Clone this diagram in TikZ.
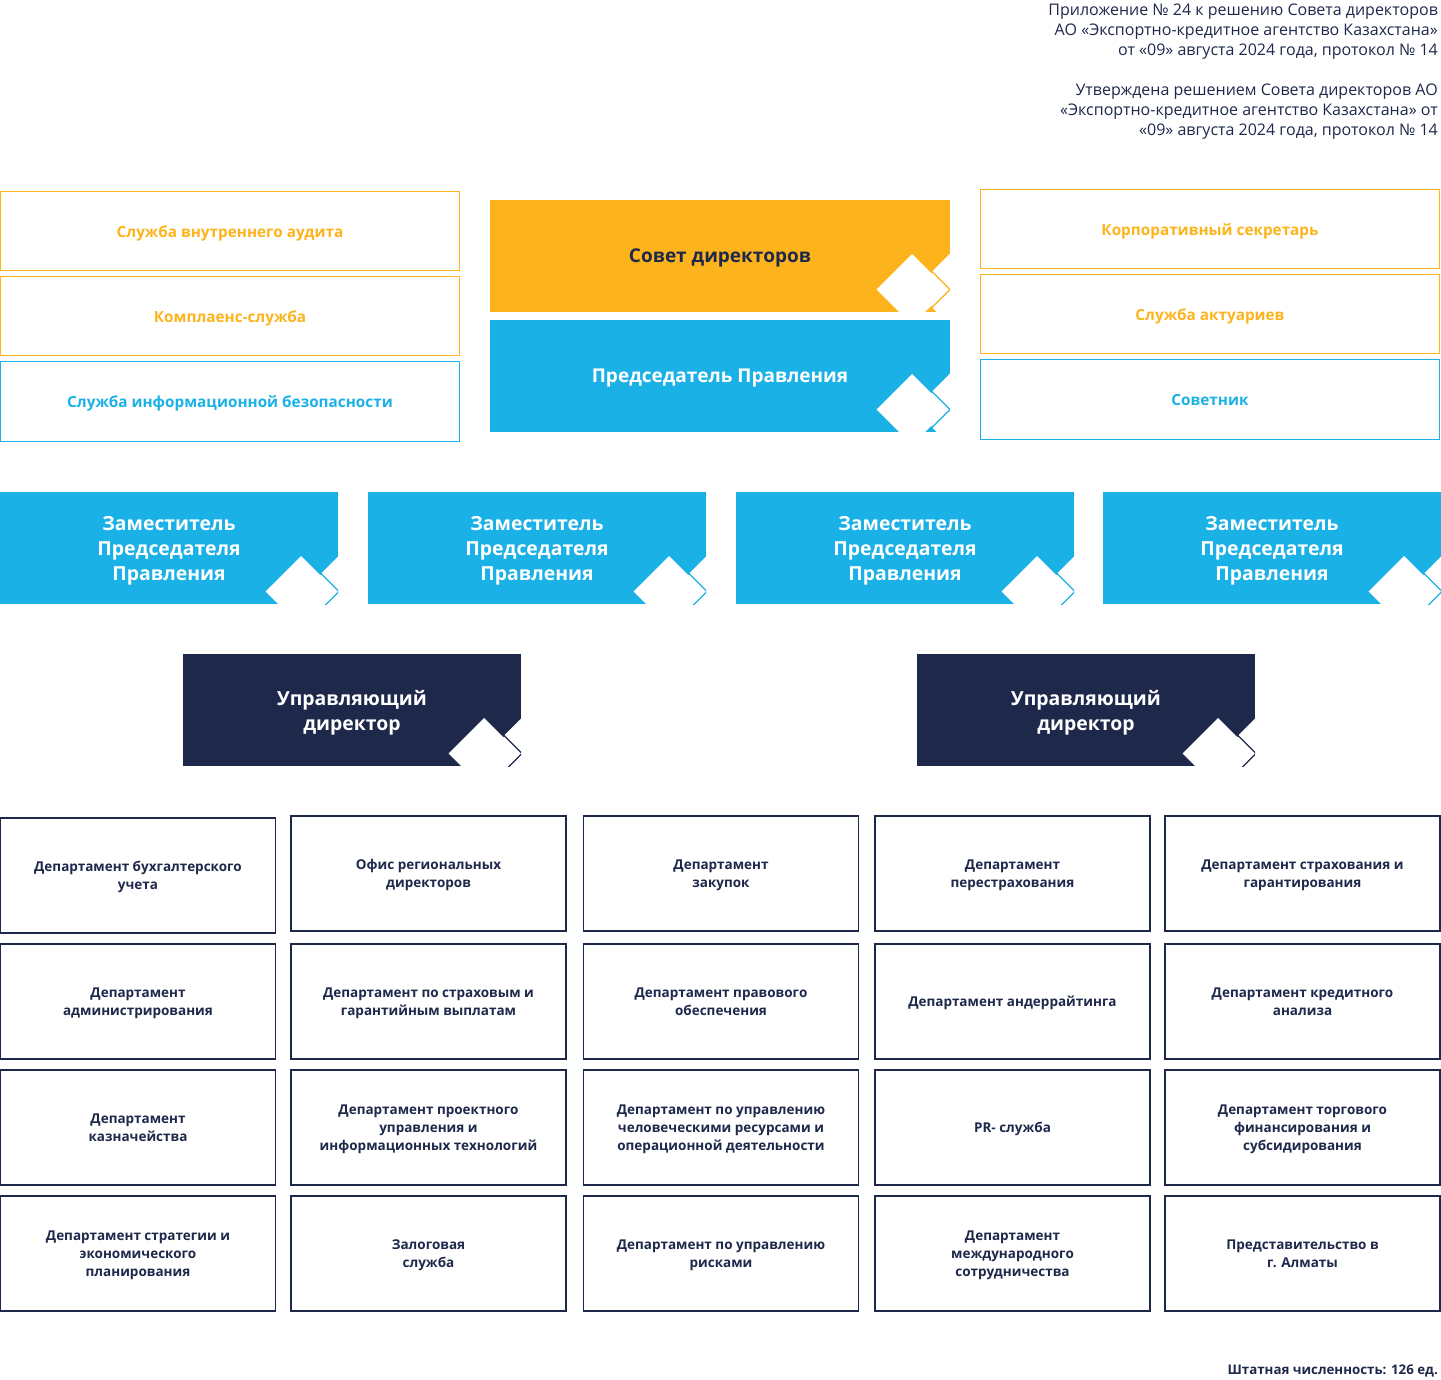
\documentclass[tikz,border=0pt]{standalone}
\usepackage{fontspec}
\setmainfont{Open Sans}
\usetikzlibrary{calc}
\definecolor{ekaorange}{HTML}{FDB31B}
\definecolor{ekablue}{HTML}{1AB1E6}
\definecolor{ekanavy}{HTML}{1E284B}
\tikzset{
  sidebox/.style={draw, line width=1pt, minimum width=459pt, minimum height=79pt, inner sep=0pt, outer sep=0pt, text depth=0pt, font=\fontsize{15.3}{18}\selectfont\bfseries},
  headbox/.style={minimum width=460pt, minimum height=112pt, inner sep=0pt, outer sep=0pt, text depth=0pt, font=\fontsize{19}{24}\selectfont\bfseries},
  deputybox/.style={fill=ekablue, text=white, minimum width=338pt, minimum height=112pt, inner sep=0pt, outer sep=0pt, text depth=0pt, align=center, font=\fontsize{19.4}{25}\selectfont\bfseries},
  directorbox/.style={fill=ekanavy, text=white, minimum width=338pt, minimum height=112pt, inner sep=0pt, outer sep=0pt, text depth=0pt, align=center, font=\fontsize{19.4}{25}\selectfont\bfseries},
  deptbox/.style={draw=ekanavy, line width=1.2pt, text=ekanavy, minimum width=275pt, minimum height=115pt, inner sep=0pt, outer sep=0pt, text depth=0pt, align=center, font=\fontsize{13.5}{18}\selectfont\bfseries},
  notetext/.style={text=ekanavy, align=right, inner sep=0pt, text depth=0pt, font=\fontsize{16}{20}\selectfont}
}
\newcommand\cornermark[4]{%
  \begin{scope}
    \clip (#1.north west) rectangle (#1.south east);
    \coordinate (mark) at ($(#1.south east)+(-#2,-#3)$);
    \fill[white, shift={(mark)}] (2,0) -- (82,-80) -- (82,80) -- cycle;
    \draw[#4, line width=1.3pt, shift={(mark)}] (2,0) -- (20,-18) -- (38,0) -- (20,18) -- cycle;
    \fill[white, shift={(mark)}] (-35.5,0) -- (0,-35.5) -- (35.5,0) -- (0,35.5) -- cycle;
  \end{scope}}
\begin{document}
\begin{tikzpicture}[x=1pt, y=-1pt]
\useasboundingbox (0,0) rectangle (1441,1380);

\node[notetext, anchor=east] (note1) at (1438,30) {Приложение № 24 к решению Совета директоров\\АО «Экспортно-кредитное агентство Казахстана»\\от «09» августа 2024 года, протокол № 14};
\node[notetext, anchor=east] (note2) at (1438,110) {Утверждена решением Совета директоров АО\\«Экспортно-кредитное агентство Казахстана» от\\«09» августа 2024 года, протокол № 14};

\node[sidebox, draw=ekaorange, text=ekaorange] (audit) at (230,231.5) {Служба внутреннего аудита};
\node[sidebox, draw=ekaorange, text=ekaorange] (compliance) at (230,316.5) {Комплаенс-служба};
\node[sidebox, draw=ekablue, text=ekablue] (infosec) at (230,401.5) {Служба информационной безопасности};
\node[sidebox, draw=ekaorange, text=ekaorange] (secretary) at (1210,229.5) {Корпоративный секретарь};
\node[sidebox, draw=ekaorange, text=ekaorange] (actuary) at (1210,314.5) {Служба актуариев};
\node[sidebox, draw=ekablue, text=ekablue] (advisor) at (1210,399.5) {Советник};

\node[headbox, fill=ekaorange, text=ekanavy] (board) at (720,256) {Совет директоров};
\node[headbox, fill=ekablue, text=white] (chair) at (720,376) {Председатель Правления};
\cornermark{board}{38}{22.5}{ekaorange}
\cornermark{chair}{38}{22.5}{ekablue}

\node[deputybox] (deputy1) at (169,548) {Заместитель\\Председателя\\Правления};
\node[deputybox] (deputy2) at (537,548) {Заместитель\\Председателя\\Правления};
\node[deputybox] (deputy3) at (905,548) {Заместитель\\Председателя\\Правления};
\node[deputybox] (deputy4) at (1272,548) {Заместитель\\Председателя\\Правления};
\cornermark{deputy1}{37}{12.5}{ekablue}
\cornermark{deputy2}{37}{12.5}{ekablue}
\cornermark{deputy3}{37}{12.5}{ekablue}
\cornermark{deputy4}{37}{12.5}{ekablue}

\node[directorbox] (director1) at (352,710) {Управляющий\\директор};
\node[directorbox] (director2) at (1086,710) {Управляющий\\директор};
\cornermark{director1}{37}{12.5}{ekanavy}
\cornermark{director2}{37}{12.5}{ekanavy}

\node[deptbox] (accounting) at (138,875.5) {Департамент бухгалтерского\\учета};
\node[deptbox] (regional) at (428.5,873.5) {Офис региональных\\директоров};
\node[deptbox] (procurement) at (721,873.5) {Департамент\\закупок};
\node[deptbox] (reinsurance) at (1012.5,873.5) {Департамент\\перестрахования};
\node[deptbox] (insurance) at (1302.5,873.5) {Департамент страхования и\\гарантирования};

\node[deptbox] (admin) at (138,1001.5) {Департамент\\администрирования};
\node[deptbox] (payments) at (428.5,1001.5) {Департамент по страховым и\\гарантийным выплатам};
\node[deptbox] (legal) at (721,1001.5) {Департамент правового\\обеспечения};
\node[deptbox] (underwriting) at (1012.5,1001.5) {Департамент андеррайтинга};
\node[deptbox] (credit) at (1302.5,1001.5) {Департамент кредитного\\анализа};

\node[deptbox] (treasury) at (138,1127.5) {Департамент\\казначейства};
\node[deptbox] (projects) at (428.5,1127.5) {Департамент проектного\\управления и\\информационных технологий};
\node[deptbox] (hr) at (721,1127.5) {Департамент по управлению\\человеческими ресурсами и\\операционной деятельности};
\node[deptbox] (pr) at (1012.5,1127.5) {PR- служба};
\node[deptbox] (trade) at (1302.5,1127.5) {Департамент торгового\\финансирования и\\субсидирования};

\node[deptbox] (strategy) at (138,1253.5) {Департамент стратегии и\\экономического\\планирования};
\node[deptbox] (collateral) at (428.5,1253.5) {Залоговая\\служба};
\node[deptbox] (risk) at (721,1253.5) {Департамент по управлению\\рисками};
\node[deptbox] (international) at (1012.5,1253.5) {Департамент\\международного\\сотрудничества};
\node[deptbox] (almaty) at (1302.5,1253.5) {Представительство в\\г. Алматы};

\node[text=ekanavy, anchor=east, inner sep=0pt, text depth=0pt, font=\fontsize{13.3}{16}\selectfont\bfseries] (staff) at (1438,1370) {Штатная численность: 126 ед.};
\end{tikzpicture}
\end{document}
